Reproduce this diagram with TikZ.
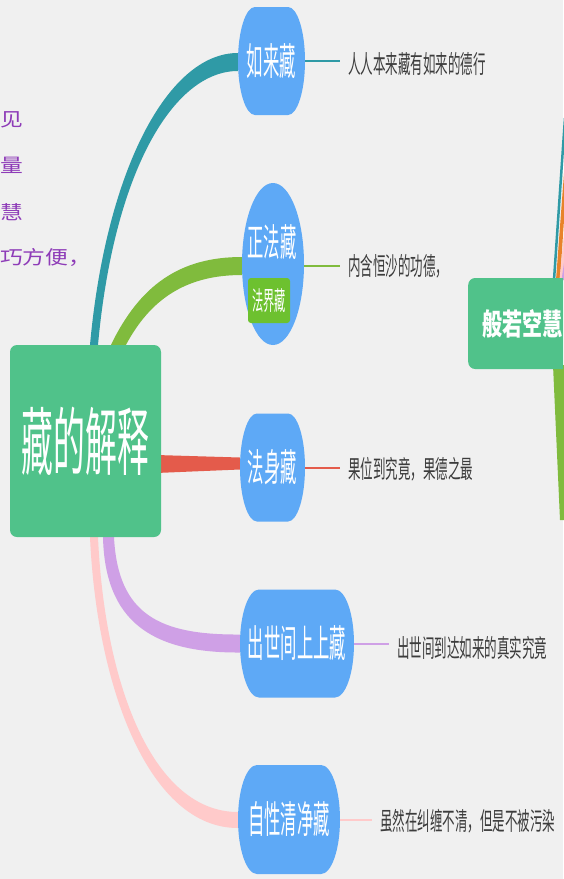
\documentclass[tikz,border=0pt]{standalone}
\usepackage{fontspec}
\usetikzlibrary{calc}
\newfontfamily\cjkbig[FakeStretch=0.43]{Noto Sans CJK SC}
\newfontfamily\cjkleaf[FakeStretch=0.5]{Noto Sans CJK SC}
\newfontfamily\cjkhead[FakeStretch=0.67]{Noto Sans CJK SC}
\newfontfamily\cjkwide[FakeStretch=1.2]{Noto Sans CJK SC}
\definecolor{paper}{HTML}{F0F0F0}
\definecolor{mint}{HTML}{50C28A}
\definecolor{skyblue}{HTML}{5EA9F6}
\definecolor{lime}{HTML}{6DC12F}
\definecolor{tealln}{HTML}{2F9AA6}
\definecolor{grassln}{HTML}{80BB3D}
\definecolor{redln}{HTML}{E45B4B}
\definecolor{lilacln}{HTML}{CFA0E6}
\definecolor{pinkln}{HTML}{FFCACA}
\definecolor{orangeln}{HTML}{E8832A}
\definecolor{textgray}{HTML}{3C3C3C}
\definecolor{plum}{HTML}{8E3CB8}
\pgfdeclarelayer{paperlayer}
\pgfdeclarelayer{links}
\pgfsetlayers{paperlayer,links,main}
% centre x, centre y, half width, half height, cap radius
\newcommand{\capsule}[5]{%
  \fill[skyblue] (#1-#3+#5,#2-#4) -- (#1+#3-#5,#2-#4)
    arc[start angle=90, end angle=-90, x radius=#5pt, y radius=#4pt]
    -- (#1-#3+#5,#2+#4)
    arc[start angle=270, end angle=90, x radius=#5pt, y radius=#4pt] -- cycle;
}
\begin{document}
\begin{tikzpicture}[
  x=1pt, y=-1pt,
  twig/.style={font=\cjkbig\fontsize{38}{40}\selectfont, text=white, inner sep=0pt},
  leaf/.style={font=\cjkleaf\fontsize{25}{28}\selectfont, text=textgray, anchor=west, inner sep=0pt, inner xsep=8pt},
  hairline/.style={line width=2pt},
  scrap/.style={font=\cjkwide\fontsize{19}{21}\selectfont, text=plum, anchor=west, inner sep=0pt},
]

% Background
\useasboundingbox (0,0) rectangle (563,879);
\begin{pgfonlayer}{paperlayer}
\fill[paper] (0,0) rectangle (563,879);
\end{pgfonlayer}
\clip (0,0) rectangle (563,879);

% ============ Root ============
\node[fill=mint, rounded corners=7pt, minimum width=151pt, minimum height=192pt,
      font=\cjkbig\fontsize{74}{80}\selectfont, text=white] (root) at (85.5,441) {藏的解释};

% ============ Branches ============
\capsule{271.5}{61}{33.5}{54}{17}
\node[twig, minimum width=67pt, minimum height=108pt] (rulai) at (271.5,61) {如来藏};

\capsule{273}{264}{31}{81}{31}
\node[minimum width=62pt, minimum height=162pt, inner sep=0pt] (zhengfa) at (273,264) {};
\node[twig] (zhengfaT) at (272,242) {正法藏};
\node[fill=lime, rounded corners=3pt, minimum width=42pt, minimum height=45pt, inner sep=0pt,
      font=\cjkbig\fontsize{26}{28}\selectfont, text=white] (fajie) at (269,300.5) {法界藏};

\capsule{272.5}{467.5}{32.5}{54}{17}
\node[twig, minimum width=65pt, minimum height=108pt] (fashen) at (272.5,467.5) {法身藏};

\capsule{297}{643.5}{57}{54}{19}
\node[twig, minimum width=114pt, minimum height=108pt] (chushi) at (297,643.5) {出世间上上藏};

\capsule{289}{819.5}{51}{54.5}{19}
\node[twig, minimum width=102pt, minimum height=109pt] (zixing) at (289,819.5) {自性清净藏};

% Thick tapered links
\begin{pgfonlayer}{links}
\fill[tealln] ([xshift=4.5pt]root.north) .. controls (106,170) and (168,53) .. ([yshift=8pt]rulai.west)
  -- ([yshift=-10pt]rulai.west) .. controls (174,71) and (114,170) .. ([xshift=12.5pt]root.north) -- cycle;
\fill[grassln] ([xshift=25.5pt]root.north) .. controls (140,285) and (180,257) .. ([yshift=7pt]zhengfa.west)
  -- ([yshift=-11pt]zhengfa.west) .. controls (185,275) and (150,300) .. ([xshift=40.5pt]root.north) -- cycle;
\fill[redln] ([xshift=-5pt,yshift=-14pt]root.east) -- ([yshift=10pt]fashen.west)
  -- ([yshift=-2pt]fashen.west) -- ([xshift=-5pt,yshift=-32pt]root.east) -- cycle;
\fill[lilacln] ([xshift=28.5pt]root.south) .. controls (118,615) and (160,635) .. ([yshift=9pt]chushi.west)
  -- ([yshift=-9pt]chushi.west) .. controls (150,653) and (105,620) .. ([xshift=17.5pt]root.south) -- cycle;
\fill[pinkln] ([xshift=12.5pt]root.south) .. controls (105,690) and (155,812) .. ([yshift=7.5pt]zixing.west)
  -- ([yshift=-8.5pt]zixing.west) .. controls (150,828) and (97,690) .. ([xshift=4.5pt]root.south) -- cycle;

% links of the neighbouring map (cut by the edge)
\draw[tealln, line width=2.5pt] (565,118) -- (554,280);
\fill[orangeln] (565,160) -- (556,280) -- (560,280) -- (565,205) -- cycle;
\fill[pinkln] (565,222) -- (559.5,280) -- (565,280) -- cycle;
\fill[lilacln] (565,256) -- (561.5,280) -- (565,280) -- cycle;
\fill[grassln] (553,365) -- (565,365) -- (565,520) -- (560,520) -- cycle;
\end{pgfonlayer}

% ============ Leaves ============
\node[leaf] (rulaiD) at (340,64) {人人本来藏有如来的德行};
\draw[tealln, hairline] (rulai.east) -- (rulai.east -| rulaiD.west);

\node[leaf] (zhengfaD) at (340,266) {内含恒沙的功德，};
\draw[grassln, hairline] ([yshift=-2pt]zhengfa.east) -- ([yshift=-2pt]zhengfa.east -| zhengfaD.west);

\node[leaf] (fashenD) at (340,469) {果位到究竟，果德之最};
\draw[redln, hairline] (fashen.east) -- (fashen.east -| fashenD.west);

\node[leaf] (chushiD) at (389,648) {出世间到达如来的真实究竟};
\draw[lilacln, hairline] (chushi.east) -- (chushi.east -| chushiD.west);

\node[leaf] (zixingD) at (372,821) {虽然在纠缠不清，但是不被污染};
\draw[pinkln, hairline] (zixing.east) -- (zixing.east -| zixingD.west);

% ============ Neighbouring map (cut by the edges) ============
\node[fill=mint, rounded corners=7pt, minimum height=91pt, text width=82pt, inner xsep=14pt, anchor=west,
      font=\cjkhead\bfseries\fontsize{30}{32}\selectfont, text=white] (banruo) at (468,323.5) {般若空慧};

\node[scrap] (jian) at (0,119.5) {见};
\node[scrap] (liang) at (0,165) {量};
\node[scrap] (hui) at (0,212) {慧};
\node[scrap] (qiao) at (0,257) {巧方便，};

\end{tikzpicture}
\end{document}
